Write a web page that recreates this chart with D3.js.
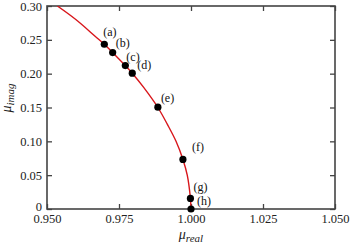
<!DOCTYPE html>
<html>
<head>
<meta charset="utf-8">
<script src="https://cdn.jsdelivr.net/npm/d3@7"></script>
<style>
  body { margin: 0; background: #fff; }
</style>
</head>
<body>
<div id="chart"></div>
<script>
// values
let curveReal = [0.9536, 0.9600, 0.9668, 0.9699, 0.9728, 0.9772, 0.9796, 0.9835, 0.9885, 0.9918, 0.9948, 0.9972, 0.9987, 0.9998, 1.0000];
let curveImag = [0.300, 0.280, 0.255, 0.2435, 0.2311, 0.2119, 0.2007, 0.180, 0.150, 0.125, 0.100, 0.0732, 0.050, 0.0156, 0.000];

let pointNames = ['(a)', '(b)', '(c)', '(d)', '(e)', '(f)', '(g)', '(h)'];
let pointReal = [0.9699, 0.9728, 0.9772, 0.9796, 0.9885, 0.9972, 0.9998, 1.0000];
let pointImag = [0.2435, 0.2311, 0.2119, 0.2007, 0.1505, 0.0732, 0.0156, 0.000];

let xTicks = [0.950, 0.975, 1.000, 1.025, 1.050];
let yTicks = [0, 0.05, 0.10, 0.15, 0.20, 0.25, 0.30];

let width = 350, height = 244;
let plotLeft = 47, plotRight = 335, plotTop = 6, plotBottom = 209;
let axisColor = '#444';
let serif = '"Liberation Serif", "Times New Roman", serif';

let svg = d3.select('#chart').append('svg')
    .attr('width', width)
    .attr('height', height);

let x = d3.scaleLinear().domain([0.95, 1.05]).range([plotLeft, plotRight]);
let y = d3.scaleLinear().domain([0, 0.30]).range([plotBottom, plotTop]);

function styleAxis(g) {
    g.attr('font-family', null).attr('font-size', null);
    g.select('.domain').remove();
    g.selectAll('line').attr('stroke', axisColor).attr('stroke-width', 1.3);
    g.selectAll('text')
        .attr('fill', '#222')
        .style('font-family', serif)
        .style('font-size', '12.5px');
}

// bottom axis with labels, ticks pointing inward
svg.append('g')
    .attr('transform', 'translate(0,' + plotBottom + ')')
    .call(d3.axisBottom(x).tickValues(xTicks).tickFormat(d3.format('.3f')).tickSizeInner(-5).tickSizeOuter(0).tickPadding(5))
    .call(styleAxis);

svg.append('g')
    .attr('transform', 'translate(0,' + plotTop + ')')
    .call(d3.axisTop(x).tickValues(xTicks).tickFormat('').tickSizeInner(-5).tickSizeOuter(0))
    .call(styleAxis);

svg.append('g')
    .attr('transform', 'translate(' + plotLeft + ',0)')
    .call(d3.axisLeft(y).tickValues(yTicks)
        .tickFormat(function(d) { return d === 0 ? '0' : d3.format('.2f')(d); })
        .tickSizeInner(-5).tickSizeOuter(0).tickPadding(5))
    .call(styleAxis)
    .call(function(g) {
        // the zero label sits a little higher in the original
        g.selectAll('.tick').filter(function(d) { return d === 0; })
            .select('text').attr('dy', '0.1em');
    });

svg.append('g')
    .attr('transform', 'translate(' + plotRight + ',0)')
    .call(d3.axisRight(y).tickValues(yTicks).tickFormat('').tickSizeInner(-5).tickSizeOuter(0))
    .call(styleAxis);

svg.append('rect')
    .attr('x', plotLeft).attr('y', plotTop)
    .attr('width', plotRight - plotLeft).attr('height', plotBottom - plotTop)
    .attr('fill', 'none')
    .attr('stroke', axisColor)
    .attr('stroke-width', 1.6);

// curve
let curveData = curveReal.map(function(r, i) { return [r, curveImag[i]]; });
svg.append('clipPath').attr('id', 'clip')
    .append('rect').attr('x', plotLeft).attr('y', plotTop)
    .attr('width', plotRight - plotLeft).attr('height', plotBottom - plotTop);

svg.append('path')
    .datum(curveData)
    .attr('clip-path', 'url(#clip)')
    .attr('fill', 'none')
    .attr('stroke', '#d8161b')
    .attr('stroke-width', 1.4)
    .attr('d', d3.line()
        .x(function(d) { return x(d[0]); })
        .y(function(d) { return y(d[1]); })
        .curve(d3.curveCatmullRom));

// points and their names
let labelDx = [-1, 3, 1, 5, 3, 9, 3, 6];
let labelDy = [-8, -6, -5, -4, -5, -8, -7, -4];

pointNames.forEach(function(name, i) {
    let px = x(pointReal[i]), py = y(pointImag[i]);
    svg.append('circle')
        .attr('cx', px).attr('cy', py)
        .attr('r', 3.6)
        .attr('fill', '#000');
    svg.append('text')
        .attr('x', px + labelDx[i])
        .attr('y', py + labelDy[i])
        .attr('fill', '#111')
        .style('font-family', serif)
        .style('font-size', '12px')
        .text(name);
});

// axis titles
svg.append('text')
    .attr('x', (plotLeft + plotRight) / 2)
    .attr('y', 239)
    .attr('text-anchor', 'middle')
    .attr('fill', '#222')
    .style('font-family', serif)
    .style('font-size', '14px')
    .style('font-style', 'italic')
    .html('μ<tspan dy="3" font-size="11px">real</tspan>');

svg.append('text')
    .attr('transform', 'translate(11,98) rotate(-90)')
    .attr('text-anchor', 'middle')
    .attr('fill', '#222')
    .style('font-family', serif)
    .style('font-size', '14px')
    .style('font-style', 'italic')
    .html('μ<tspan dy="3" font-size="11px">imag</tspan>');
</script>
</body>
</html>
